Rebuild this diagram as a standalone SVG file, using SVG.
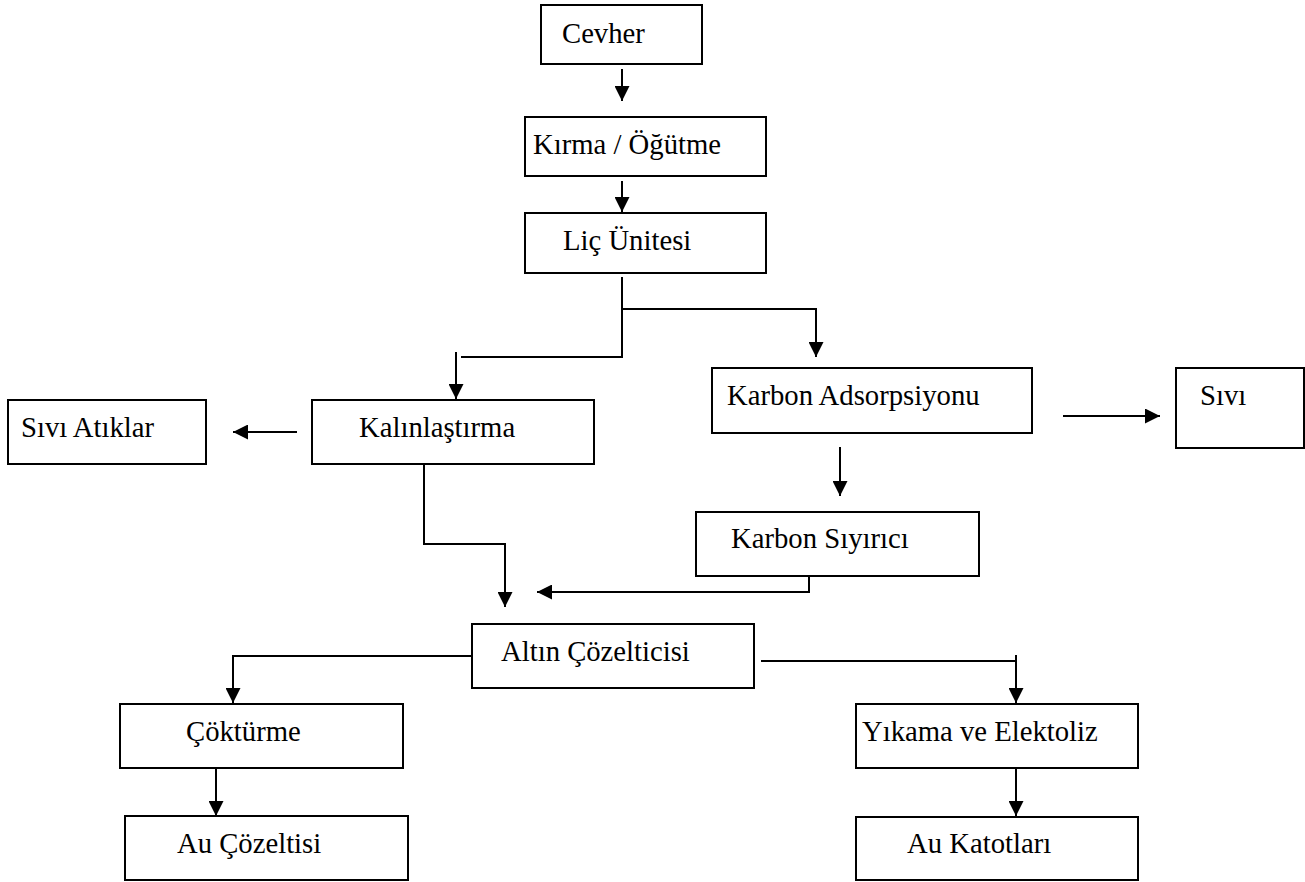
<svg xmlns="http://www.w3.org/2000/svg" width="1305" height="882" viewBox="0 0 1305 882">
<style>
.box{fill:#fff;stroke:#000;stroke-width:2}
.lbl{font-family:"Liberation Serif","Times New Roman",serif;font-size:28.7px;fill:#000}
.ln{fill:none;stroke:#000;stroke-width:2}
.ar{fill:none;stroke:#000;stroke-width:2;marker-end:url(#ah)}
</style>
<defs>
<marker id="ah" viewBox="0 0 15 15" refX="15" refY="7.5" markerWidth="15" markerHeight="15" markerUnits="userSpaceOnUse" orient="auto">
<path d="M0,0 L15,7.5 L0,15 z" fill="#000"/>
</marker>
</defs>
<rect width="1305" height="882" fill="#fff"/>
<g id="connectors">
<line class="ar" x1="622" y1="69" x2="622" y2="101"/>
<line class="ar" x1="622" y1="181" x2="622" y2="212"/>
<path class="ln" d="M622,277 V357 H461"/>
<path class="ar" d="M622,309 H816 V357"/>
<line class="ar" x1="456" y1="352" x2="456" y2="399"/>
<line class="ar" x1="297" y1="432" x2="233" y2="432"/>
<line class="ar" x1="1063" y1="416" x2="1160" y2="416"/>
<line class="ar" x1="840" y1="447" x2="840" y2="496"/>
<path class="ar" d="M424,464 V544 H505 V607"/>
<path class="ar" d="M809,576 V592 H537"/>
<path class="ar" d="M472,656 H233 V703"/>
<path class="ar" d="M761,661 H1016 V703"/>
<line class="ln" x1="1016" y1="655" x2="1016" y2="662"/>
<line class="ar" x1="216" y1="768" x2="216" y2="816"/>
<line class="ar" x1="1016" y1="768" x2="1016" y2="816"/>
</g>
<g id="cevher"><rect class="box" x="541" y="5" width="161" height="59"/><text class="lbl" x="562" y="43">Cevher</text></g>
<g id="kirma"><rect class="box" x="525" y="117" width="241" height="59"/><text class="lbl" x="533" y="154">Kırma / Öğütme</text></g>
<g id="lic"><rect class="box" x="525" y="213" width="241" height="60"/><text class="lbl" x="563" y="250">Liç Ünitesi</text></g>
<g id="sivi-atiklar"><rect class="box" x="8" y="400" width="198" height="64"/><text class="lbl" x="21" y="437">Sıvı Atıklar</text></g>
<g id="kalinlastirma"><rect class="box" x="312" y="400" width="282" height="64"/><text class="lbl" x="359" y="437">Kalınlaştırma</text></g>
<g id="karbon-ads"><rect class="box" x="712" y="368" width="320" height="65"/><text class="lbl" x="727" y="405">Karbon Adsorpsiyonu</text></g>
<g id="sivi"><rect class="box" x="1176" y="368" width="128" height="80"/><text class="lbl" x="1200" y="405">Sıvı</text></g>
<g id="karbon-siyirici"><rect class="box" x="696" y="512" width="283" height="64"/><text class="lbl" x="731" y="548">Karbon Sıyırıcı</text></g>
<g id="altin"><rect class="box" x="472" y="624" width="282" height="64"/><text class="lbl" x="501" y="661">Altın Çözelticisi</text></g>
<g id="cokturme"><rect class="box" x="120" y="704" width="283" height="64"/><text class="lbl" x="186" y="741">Çöktürme</text></g>
<g id="yikama"><rect class="box" x="856" y="704" width="282" height="64"/><text class="lbl" x="862" y="741">Yıkama ve Elektoliz</text></g>
<g id="au-cozeltisi"><rect class="box" x="125" y="816" width="283" height="64"/><text class="lbl" x="177" y="853">Au Çözeltisi</text></g>
<g id="au-katotlari"><rect class="box" x="856" y="817" width="282" height="63"/><text class="lbl" x="907" y="853">Au Katotları</text></g>
</svg>
